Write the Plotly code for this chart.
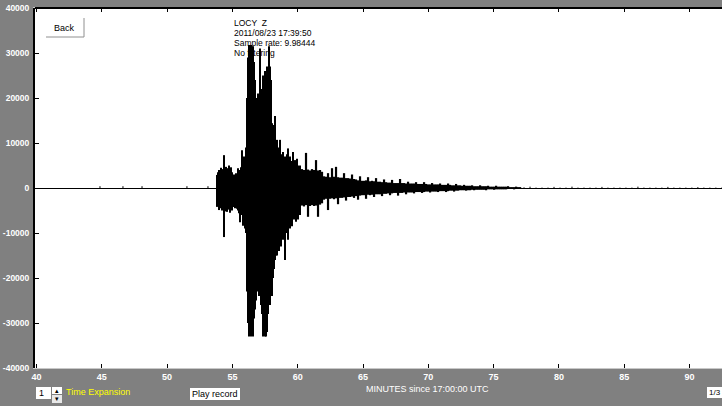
import plotly.graph_objects as go

# ---------------- data ----------------
# Y axis ticks (counts)
y_ticks = [-40000, -30000, -20000, -10000, 0, 10000, 20000, 30000, 40000]
y_labels = ["-40000", "-30000", "-20000", "-10000", "0", "10000", "20000", "30000", "40000"]
# X axis ticks (minutes since 17:00:00 UTC)
x_ticks = [40, 45, 50, 55, 60, 65, 70, 75, 80, 85, 90]
x_labels = ["40", "45", "50", "55", "60", "65", "70", "75", "80", "85", "90"]

# tiny blips on the quiet pre-event trace (minutes, thousand counts)
pre_t = [44.86, 46.62, 48.08, 51.52, 53.13]
pre_hi = [0.4, 0.4, 0.4, 0.4, 0.4]
pre_lo = [-0.1, -0.1, -0.1, -0.1, -0.1]

# main arrival: peak pairs (thousand counts), sampled every seg_a_dt minutes
seg_a_t0, seg_a_dt = 53.82, 0.0766
seg_a_hi = [2.9, 3.5, 4.0, 3.2, 4.5, 3.8, 4.2, 7.3, 4.0, 4.7,
            3.6, 4.4, 5.0, 3.9, 4.6, 3.5, 2.4, 3.0, 2.6, 3.3,
            2.8, 4.4, 3.8, 4.0, 4.6, 8.4, 6.0, 7.0, 5.5, 9.0,
            20.0, 29.0, 31.8, 30.5, 31.8, 30.0, 31.5, 28.0, 24.0, 20.0,
            19.0, 21.0, 18.0, 31.0, 19.0, 22.0, 25.0, 24.0, 26.0, 25.0,
            27.0, 26.0, 31.5, 27.0, 24.0, 14.4, 14.0, 12.0, 16.0, 10.0,
            10.7, 9.0, 8.0, 10.7, 7.5, 7.0, 8.0, 6.5, 7.0, 6.0,
            7.5, 8.8, 6.0, 7.0, 5.5, 6.0, 8.0, 5.5, 6.2, 5.0,
            6.5, 5.0, 4.5, 5.0]
seg_a_lo = [-4.2, -3.8, -4.9, -4.5, -3.6, -5.0, -4.4, -10.9, -5.2, -4.0,
            -5.3, -4.2, -4.8, -5.5, -4.3, -5.0, -4.2, -3.8, -4.5, -4.0,
            -4.6, -5.0, -5.6, -7.6, -5.0, -6.0, -8.4, -6.5, -9.0, -10.0,
            -23.0, -30.0, -33.0, -31.0, -33.0, -32.0, -33.0, -29.0, -27.0, -25.0,
            -23.0, -22.0, -24.0, -23.0, -26.0, -28.0, -33.0, -31.0, -33.0, -33.0,
            -32.0, -28.0, -25.0, -26.0, -24.0, -24.0, -20.0, -18.0, -16.0, -15.0,
            -15.0, -12.5, -14.0, -11.5, -13.0, -10.0, -11.5, -9.5, -16.0, -10.0,
            -9.0, -11.5, -8.0, -9.0, -7.5, -8.5, -6.5, -7.0, -6.0, -7.5,
            -6.0, -7.0, -5.5, -6.0]

# coda
seg_b_t0, seg_b_dt = 60.33, 0.1532
seg_b_hi = [4.2, 4.0, 7.8, 4.1, 3.9, 4.2, 4.0, 6.2, 3.9, 4.0,
            3.6, 2.6, 2.5, 3.3, 2.4, 4.4, 2.5, 4.7, 2.4, 2.3,
            2.3, 3.3, 2.2, 2.2, 2.1, 3.0, 2.0, 1.9, 1.7, 2.6,
            1.6, 1.6, 1.7, 2.4, 1.5, 1.6, 1.5, 2.2, 1.4, 1.4,
            1.3, 1.9, 1.3, 1.2, 1.2, 1.8, 1.1, 1.1, 1.1, 2.0,
            1.1, 1.1, 1.0, 1.4, 1.0, 1.0, 1.0, 1.3, 0.9, 0.9,
            0.9, 1.3, 0.9, 0.8, 0.8, 1.1, 0.8, 0.8, 0.8, 1.0,
            0.7, 0.7, 0.7, 1.0, 0.7, 0.6, 0.6, 0.9, 0.6, 0.6,
            0.5, 0.7, 0.5, 0.5, 0.5, 0.6, 0.4, 0.4, 0.4, 0.6,
            0.4, 0.4, 0.4, 0.5, 0.3, 0.3, 0.3, 0.5, 0.3, 0.3,
            0.3, 0.3, 0.3, 0.4, 0.2, 0.2, 0.2, 0.3, 0.2, 0.2]
seg_b_lo = [-3.9, -4.1, -3.8, -6.4, -4.0, -3.8, -4.0, -3.9, -6.4, -3.7,
            -3.4, -2.6, -2.4, -4.9, -2.4, -2.3, -2.5, -2.3, -3.6, -2.2,
            -2.2, -2.1, -2.8, -2.0, -2.0, -1.9, -2.2, -1.8, -2.6, -1.7,
            -1.6, -1.6, -2.4, -1.5, -1.6, -1.5, -2.0, -1.4, -1.4, -1.4,
            -1.8, -1.3, -1.3, -1.2, -1.6, -1.2, -1.1, -1.1, -1.7, -1.1,
            -1.1, -1.0, -1.4, -1.0, -1.0, -1.0, -1.2, -0.9, -0.9, -0.9,
            -1.1, -0.9, -0.8, -0.8, -1.0, -0.8, -0.8, -0.8, -0.9, -0.7,
            -0.7, -0.7, -0.9, -0.7, -0.6, -0.6, -0.8, -0.6, -0.6, -0.5,
            -0.5, -0.5, -0.6, -0.5, -0.5, -0.4, -0.5, -0.4, -0.4, -0.4,
            -0.4, -0.4, -0.5, -0.3, -0.3, -0.3, -0.4, -0.3, -0.3, -0.3,
            -0.3, -0.3, -0.3, -0.2, -0.2, -0.2, -0.3, -0.2, -0.2, -0.2]

# late quiet tail
seg_c_t0, seg_c_dt = 77.33, 0.459
seg_c_hi = [0.15, 0.3, 0.1, 0.1, 0.1, 0.25, 0.1, 0.1, 0.3, 0.1,
            0.1, 0.1, 0.1, 0.25, 0.1, 0.1, 0.1, 0.1, 0.1, 0.3,
            0.1, 0.1, 0.1, 0.1, 0.25, 0.1, 0.1, 0.1, 0.1, 0.2,
            0.1, 0.1, 0.1, 0.1]
seg_c_lo = [-0.15, -0.1, -0.2, -0.1, -0.1, -0.1, -0.1, -0.1, -0.1, -0.1,
            -0.1, -0.15, -0.1, -0.1, -0.1, -0.1, -0.1, -0.15, -0.1, -0.1,
            -0.1, -0.1, -0.1, -0.1, -0.1, -0.1, -0.1, -0.1, -0.1, -0.1,
            -0.1, -0.1, -0.1, -0.1]

info_lines = ["LOCY  Z", "2011/08/23 17:39:50", "Sample rate: 9.98444", "No filtering"]
x_title = "MINUTES since 17:00:00 UTC"


# ---------------- build traces (vertical peak-to-peak strokes) ----------------
def strokes(times, hi, lo):
    xs, ys = [], []
    for t, h, l in zip(times, hi, lo):
        xs.extend([t, t, None])
        ys.extend([h * 1000, l * 1000, None])
    return xs, ys


def grid(t0, dt, n):
    return [t0 + i * dt for i in range(n)]


fig = go.Figure()
for times, hi, lo, w in [
    (pre_t, pre_hi, pre_lo, 1),
    (grid(seg_a_t0, seg_a_dt, len(seg_a_hi)), seg_a_hi, seg_a_lo, 2),
    (grid(seg_b_t0, seg_b_dt, len(seg_b_hi)), seg_b_hi, seg_b_lo, 2.2),
    (grid(seg_c_t0, seg_c_dt, len(seg_c_hi)), seg_c_hi, seg_c_lo, 1),
]:
    sx, sy = strokes(times, hi, lo)
    fig.add_trace(go.Scatter(x=sx, y=sy, mode="lines", connectgaps=False,
                             line=dict(color="black", width=w), hoverinfo="skip"))

# ---------------- layout ----------------
L, T, W, H = 35, 8, 687, 360


def px(x):
    return (x - L) / W


def py(y):
    return (T + H - y) / H


FONT = "Liberation Sans"
shapes = []
annotations = []

# top black frame line
shapes.append(dict(type="line", xref="paper", yref="paper", x0=0, x1=1, y0=1, y1=1,
                   line=dict(color="black", width=2)))

# Back button
shapes.append(dict(type="rect", xref="paper", yref="paper", x0=px(46), x1=px(84), y0=py(37), y1=py(18),
                   fillcolor="white", line=dict(width=0)))
shapes.append(dict(type="line", xref="paper", yref="paper", x0=px(46), x1=px(84), y0=py(37), y1=py(37),
                   line=dict(color="#909090", width=1)))
shapes.append(dict(type="line", xref="paper", yref="paper", x0=px(84), x1=px(84), y0=py(37), y1=py(18),
                   line=dict(color="#909090", width=1)))
annotations.append(dict(text="Back", xref="paper", yref="paper", x=px(64), y=py(28),
                        xanchor="center", yanchor="middle", showarrow=False,
                        font=dict(family=FONT, size=9, color="black")))

# info block
for i, line in enumerate(info_lines):
    annotations.append(dict(text=line, xref="paper", yref="paper", x=px(232), y=py(23 + i * 10),
                            xanchor="left", yanchor="middle", showarrow=False,
                            font=dict(family=FONT, size=8.5, color="black")))

# bottom controls
shapes.append(dict(type="rect", xref="paper", yref="paper", x0=px(36), x1=px(51), y0=py(399), y1=py(387),
                   fillcolor="white", line=dict(width=0)))
annotations.append(dict(text="1", xref="paper", yref="paper", x=px(37), y=py(393),
                        xanchor="left", yanchor="middle", showarrow=False,
                        font=dict(family=FONT, size=9, color="black")))
shapes.append(dict(type="rect", xref="paper", yref="paper", x0=px(52), x1=px(62), y0=py(394), y1=py(387),
                   fillcolor="white", line=dict(width=0)))
shapes.append(dict(type="rect", xref="paper", yref="paper", x0=px(52), x1=px(62), y0=py(403), y1=py(395),
                   fillcolor="#e8e8e8", line=dict(width=0)))
annotations.append(dict(text="▴", xref="paper", yref="paper", x=px(57), y=py(390.5),
                        xanchor="center", yanchor="middle", showarrow=False,
                        font=dict(family=FONT, size=7, color="black")))
annotations.append(dict(text="▾", xref="paper", yref="paper", x=px(57), y=py(399),
                        xanchor="center", yanchor="middle", showarrow=False,
                        font=dict(family=FONT, size=7, color="black")))
annotations.append(dict(text="Time Expansion", xref="paper", yref="paper", x=px(64), y=py(392),
                        xanchor="left", yanchor="middle", showarrow=False,
                        font=dict(family=FONT, size=9, color="#ffff00")))

shapes.append(dict(type="rect", xref="paper", yref="paper", x0=px(190), x1=px(240), y0=py(400), y1=py(388),
                   fillcolor="white", line=dict(width=0)))
annotations.append(dict(text="Play record", xref="paper", yref="paper", x=px(215), y=py(394),
                        xanchor="center", yanchor="middle", showarrow=False,
                        font=dict(family=FONT, size=9, color="black")))

annotations.append(dict(text=x_title, xref="paper", yref="paper", x=px(364), y=py(389),
                        xanchor="left", yanchor="middle", showarrow=False,
                        font=dict(family=FONT, size=9, color="white")))

shapes.append(dict(type="rect", xref="paper", yref="paper", x0=px(707), x1=px(722), y0=py(398), y1=py(387),
                   fillcolor="white", line=dict(width=0)))
annotations.append(dict(text="1/3", xref="paper", yref="paper", x=px(707), y=py(392.5),
                        xanchor="left", yanchor="middle", showarrow=False,
                        font=dict(family=FONT, size=8, color="black")))

fig.update_layout(
    width=722, height=406,
    margin=dict(l=L, r=0, t=T, b=406 - T - H, autoexpand=False),
    paper_bgcolor="#808080", plot_bgcolor="white",
    showlegend=False,
    shapes=shapes, annotations=annotations,
    xaxis=dict(range=[40 - 1.5 / 13.06, 40 + 685.5 / 13.06],
               tickvals=x_ticks, ticktext=x_labels,
               ticks="inside", ticklen=4, tickwidth=1, tickcolor="black",
               showline=True, linecolor="#c8c8c8", linewidth=1, mirror="ticks",
               showgrid=False, zeroline=False,
               tickfont=dict(family=FONT, size=9, color="white", weight="bold")),
    yaxis=dict(range=[-40000, 40000],
               tickvals=y_ticks, ticktext=y_labels,
               ticks="inside", ticklen=4, tickwidth=1, tickcolor="black",
               showline=True, linecolor="black", linewidth=2,
               showgrid=False, zeroline=True, zerolinecolor="black", zerolinewidth=1.2,
               ticklabelstandoff=2,
               tickfont=dict(family=FONT, size=8.5, color="white", weight="bold")),
)

fig.write_html("out.html", config={"displayModeBar": False},
               post_script="document.body.style.margin='0';document.body.style.overflow='hidden';")
